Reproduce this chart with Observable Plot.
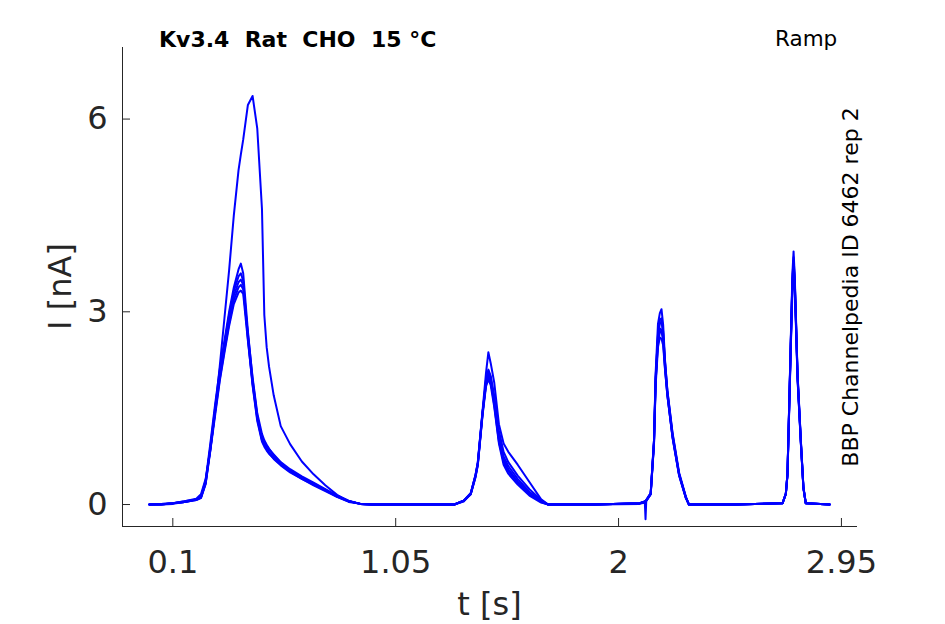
<!DOCTYPE html>
<html><head><meta charset="utf-8">
<script src="https://cdn.jsdelivr.net/npm/d3@7"></script>
<script src="https://cdn.jsdelivr.net/npm/@observablehq/plot@0.6"></script>
<style>body{margin:0;background:#fff} svg{display:block}</style>
</head><body><div id="chart"></div>
<script>
// shared time base (s)
const time = [
  0.00, 0.05, 0.10, 0.15, 0.20, 0.22, 0.24, 0.26, 0.28, 0.30, 0.32, 0.34, 0.36, 0.38, 0.39, 0.40, 0.42, 0.44, 0.46, 0.48, 0.49, 0.50, 0.51, 0.53, 0.56, 0.60, 0.65, 0.70, 0.75, 0.80, 0.85, 0.90, 0.95, 1.10,
  1.30, 1.34, 1.37, 1.39, 1.40, 1.42, 1.435, 1.445, 1.455, 1.47, 1.49, 1.51, 1.53, 1.57, 1.62, 1.67, 1.70, 1.90,
  2.09, 2.112, 2.115, 2.118, 2.137, 2.151, 2.158, 2.168, 2.176, 2.183, 2.19, 2.198, 2.208, 2.23, 2.258, 2.287, 2.30, 2.50,
  2.699, 2.713, 2.72, 2.727, 2.734, 2.741, 2.746, 2.751, 2.755, 2.763, 2.777, 2.788, 2.798, 2.90
];
// current sweeps (nA)
const sweep1 = [
  0.00, 0.00, 0.02, 0.05, 0.09, 0.16, 0.40, 0.85, 1.45, 2.15, 2.90, 3.65, 4.50, 5.20, 5.45, 5.68, 6.22, 6.36, 5.85, 4.60, 2.95, 2.45, 2.15, 1.70, 1.22, 0.94, 0.67, 0.47, 0.30, 0.15, 0.05, 0.01, 0.00, 0.00,
  0.00, 0.06, 0.17, 0.45, 0.66, 1.45, 2.05, 2.37, 2.20, 1.90, 1.25, 0.95, 0.82, 0.62, 0.35, 0.08, 0.00, 0.00,
  0.02, 0.05, 0.06, 0.07, 0.18, 1.00, 2.04, 2.81, 2.98, 3.04, 2.80, 2.25, 1.77, 1.10, 0.48, 0.11, 0.00, 0.00,
  0.02, 0.17, 0.48, 1.51, 2.55, 3.59, 3.94, 3.55, 3.07, 2.04, 1.00, 0.27, 0.02, 0.00
];
const sweep2 = [
  0.00, 0.01, 0.02, 0.04, 0.08, 0.12, 0.38, 0.95, 1.55, 2.10, 2.55, 3.00, 3.38, 3.66, 3.75, 3.60, 2.70, 1.95, 1.38, 1.02, 0.95, 0.88, 0.82, 0.74, 0.64, 0.53, 0.42, 0.33, 0.23, 0.13, 0.05, 0.01, 0.00, 0.00,
  0.00, 0.06, 0.17, 0.45, 0.64, 1.42, 1.92, 2.08, 1.98, 1.60, 1.02, 0.70, 0.55, 0.36, 0.18, 0.05, 0.00, 0.00,
  0.02, 0.05, 0.05, 0.06, 0.17, 0.98, 1.95, 2.65, 2.88, 2.90, 2.70, 2.20, 1.75, 1.08, 0.47, 0.11, 0.00, 0.00,
  0.02, 0.17, 0.47, 1.48, 2.50, 3.50, 3.85, 3.50, 3.02, 2.00, 0.98, 0.26, 0.02, 0.00
];
const sweep3 = [
  0.00, 0.00, 0.02, 0.04, 0.07, 0.11, 0.34, 0.90, 1.50, 2.05, 2.50, 2.95, 3.32, 3.55, 3.60, 3.48, 2.62, 1.90, 1.36, 1.05, 0.98, 0.92, 0.86, 0.78, 0.66, 0.55, 0.44, 0.34, 0.24, 0.14, 0.06, 0.01, 0.00, 0.00,
  0.00, 0.05, 0.16, 0.43, 0.62, 1.40, 1.88, 2.03, 1.92, 1.55, 0.98, 0.66, 0.52, 0.34, 0.16, 0.04, 0.00, 0.00,
  0.02, 0.04, 0.05, 0.06, 0.16, 0.95, 1.90, 2.55, 2.74, 2.72, 2.60, 2.15, 1.72, 1.05, 0.46, 0.10, 0.00, 0.00,
  0.02, 0.16, 0.46, 1.45, 2.45, 3.40, 3.70, 3.40, 2.95, 1.96, 0.96, 0.25, 0.02, 0.00
];
const sweep4 = [
  0.00, 0.00, 0.01, 0.04, 0.07, 0.10, 0.32, 0.86, 1.45, 2.00, 2.45, 2.88, 3.25, 3.46, 3.50, 3.42, 2.58, 1.85, 1.30, 0.98, 0.90, 0.84, 0.79, 0.72, 0.62, 0.51, 0.40, 0.31, 0.22, 0.12, 0.05, 0.01, 0.00, 0.00,
  0.00, 0.06, 0.18, 0.46, 0.65, 1.44, 1.86, 1.98, 1.90, 1.62, 1.08, 0.75, 0.60, 0.40, 0.20, 0.06, 0.00, 0.00,
  0.01, 0.03, -0.23, 0.05, 0.16, 0.93, 1.85, 2.45, 2.60, 2.58, 2.48, 2.10, 1.70, 1.06, 0.47, 0.11, 0.00, 0.00,
  0.02, 0.17, 0.48, 1.50, 2.52, 3.48, 3.80, 3.46, 3.00, 2.02, 1.00, 0.27, 0.02, 0.00
];
const sweep5 = [
  0.00, 0.01, 0.02, 0.05, 0.08, 0.12, 0.36, 0.88, 1.42, 1.95, 2.40, 2.82, 3.18, 3.38, 3.42, 3.35, 2.66, 1.98, 1.42, 1.10, 1.00, 0.93, 0.87, 0.77, 0.65, 0.52, 0.41, 0.32, 0.23, 0.13, 0.05, 0.01, 0.00, 0.00,
  0.00, 0.05, 0.17, 0.44, 0.63, 1.41, 1.95, 2.10, 2.00, 1.70, 1.15, 0.82, 0.66, 0.45, 0.24, 0.07, 0.00, 0.00,
  0.02, 0.05, 0.06, 0.07, 0.18, 1.00, 1.98, 2.62, 2.82, 2.85, 2.66, 2.22, 1.78, 1.12, 0.50, 0.12, 0.00, 0.00,
  0.02, 0.16, 0.45, 1.42, 2.40, 3.32, 3.60, 3.32, 2.90, 1.94, 0.95, 0.25, 0.02, 0.00
];
const sweep6 = [
  0.00, 0.00, 0.02, 0.04, 0.08, 0.11, 0.33, 0.84, 1.38, 1.92, 2.36, 2.78, 3.12, 3.30, 3.33, 3.28, 2.55, 1.88, 1.33, 1.00, 0.93, 0.86, 0.80, 0.71, 0.61, 0.50, 0.40, 0.30, 0.21, 0.12, 0.04, 0.01, 0.00, 0.00,
  0.00, 0.06, 0.16, 0.42, 0.61, 1.38, 1.84, 1.95, 1.86, 1.52, 0.95, 0.62, 0.48, 0.31, 0.14, 0.03, 0.00, 0.00,
  0.02, 0.04, 0.05, 0.06, 0.16, 0.96, 1.92, 2.52, 2.68, 2.70, 2.55, 2.12, 1.70, 1.04, 0.45, 0.10, 0.00, 0.00,
  0.02, 0.17, 0.47, 1.47, 2.48, 3.45, 3.75, 3.44, 2.98, 1.98, 0.97, 0.26, 0.02, 0.00
];
const xTicks = [0.1, 1.05, 2, 2.95];
const yTicks = [0, 3, 6];
const xDomain = [-0.1145, 3.0185];
const yDomain = [-0.342, 7.114];
const titleText = "Kv3.4  Rat  CHO  15 \u00b0C";
const protocolText = "Ramp";
const sideText = "BBP Channelpedia ID 6462 rep 2";
const xLabel = "t [s]";
const yLabel = "I [nA]";

const sweeps = [sweep1, sweep2, sweep3, sweep4, sweep5, sweep6];
const data = sweeps.flatMap((s, k) => s.map((v, i) => ({t: time[i], I: v, sweep: k + 1})));

const W = 945, H = 624, mL = 122, mR = 88, mT = 47, mB = 98;
const plotW = W - mL - mR, plotH = H - mT - mB;
const ink = "#262626";
const font = "DejaVu Sans, sans-serif";

const chart = Plot.plot({
  width: W, height: H,
  marginLeft: mL, marginRight: mR, marginTop: mT, marginBottom: mB,
  style: {fontFamily: font, background: "white", color: ink},
  x: {domain: xDomain},
  y: {domain: yDomain},
  marks: [
    Plot.axisX(xTicks, {tickSize: 0, tickPadding: 24, fontSize: 32, label: null, tickFormat: d => String(d)}),
    Plot.axisY(yTicks, {tickSize: 0, tickPadding: 15, fontSize: 32, label: null, tickFormat: d => String(d)}),
    Plot.ruleX(xTicks, {stroke: ink, strokeWidth: 1, insetTop: plotH - 8}),
    Plot.ruleY(yTicks, {stroke: ink, strokeWidth: 1, insetRight: plotW - 8}),
    Plot.ruleX([xDomain[0]], {stroke: ink, strokeWidth: 1}),
    Plot.ruleY([yDomain[0]], {stroke: ink, strokeWidth: 1}),
    Plot.line(data, {x: "t", y: "I", z: "sweep", stroke: "#0000ff", strokeWidth: 2, strokeLinejoin: "round"})
  ]
});

const svg = d3.select(chart);
svg.append("text").attr("x", 159).attr("y", 47).attr("text-anchor", "start").attr("font-family", font).attr("font-size", 22)
  .attr("font-weight", "bold").attr("fill", "#000").text(titleText);
svg.append("text").attr("x", 775).attr("y", 46).attr("text-anchor", "start").attr("font-family", font).attr("font-size", 21.5)
  .attr("fill", "#000").text(protocolText);
svg.append("text").attr("transform", "translate(858,287) rotate(-90)").attr("text-anchor", "middle")
  .attr("font-family", font).attr("font-size", 22).attr("fill", "#000").text(sideText);
svg.append("text").attr("x", mL + plotW / 2).attr("y", 615).attr("text-anchor", "middle")
  .attr("font-family", font).attr("font-size", 32).attr("fill", ink).text(xLabel);
svg.append("text").attr("transform", `translate(71,${mT + plotH / 2}) rotate(-90)`).attr("text-anchor", "middle")
  .attr("font-family", font).attr("font-size", 32).attr("fill", ink).text(yLabel);

document.getElementById("chart").appendChild(chart);
</script>
</body></html>
